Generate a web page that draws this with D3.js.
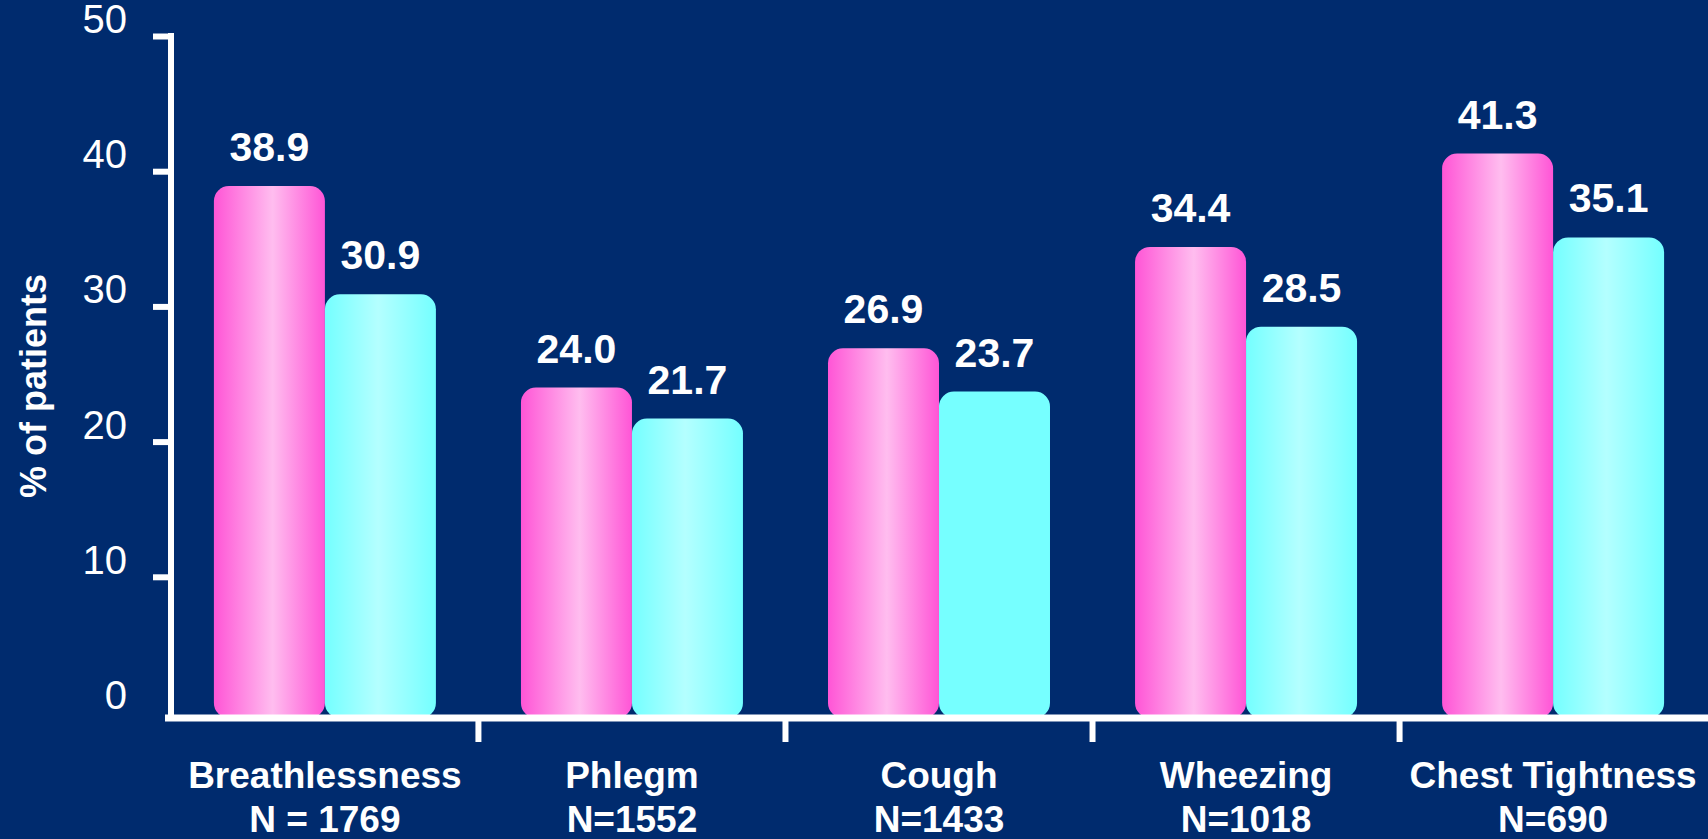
<!DOCTYPE html>
<html>
<head>
<meta charset="utf-8">
<script src="https://cdn.jsdelivr.net/npm/d3@7"></script>
<style>
  body { margin: 0; background: #002b6e; overflow: hidden; }
  svg { display: block; font-family: "Liberation Sans", Arial, sans-serif; }
</style>
</head>
<body>
<div id="chart"></div>
<script>
// data
const symptoms = ["Breathlessness", "Phlegm", "Cough", "Wheezing", "Chest Tightness"];
const sampleSizes = ["N = 1769", "N=1552", "N=1433", "N=1018", "N=690"];
const seriesKeys = ["pink", "cyan"];
const pinkValues = [38.9, 24.0, 26.9, 34.4, 41.3];
const cyanValues = [30.9, 21.7, 23.7, 28.5, 35.1];
const yTicks = [0, 10, 20, 30, 40, 50];
// the cyan Cough bar has no shading on the slide
const flatCyan = ["Cough"];

const width = 1708, height = 839;
const axisY = 718, axisX = 171;

const svg = d3.select("#chart")
  .append("svg")
    .attr("width", width)
    .attr("height", height);

svg.append("rect")
  .attr("width", width)
  .attr("height", height)
  .attr("fill", "#002b6e");

// gradients for the bars
const defs = svg.append("defs");
function addGradient(id, edge, mid, midAt) {
  const g = defs.append("linearGradient")
    .attr("id", id)
    .attr("x1", "0%").attr("x2", "100%")
    .attr("y1", "0%").attr("y2", "0%");
  g.append("stop").attr("offset", "0%").attr("stop-color", edge);
  g.append("stop").attr("offset", midAt).attr("stop-color", mid);
  g.append("stop").attr("offset", "100%").attr("stop-color", edge);
}
addGradient("grad-pink", "#ff55d6", "#ffbdef", "53%");
addGradient("grad-cyan", "#74ffff", "#b4ffff", "48%");

// scales
const x = d3.scaleBand()
  .domain(symptoms)
  .range([170, 1708])
  .paddingInner(0.277)
  .paddingOuter(0.143);

const xSub = d3.scaleBand()
  .domain(seriesKeys)
  .range([0, x.bandwidth()]);

const y = d3.scaleLinear()
  .domain([0, 50])
  .range([712, 36]);

const rows = symptoms.map((s, i) => ({
  symptom: s,
  n: sampleSizes[i],
  values: [
    {key: "pink", value: pinkValues[i]},
    {key: "cyan", value: cyanValues[i]}
  ]
}));

// bars
const groups = svg.append("g")
  .selectAll("g")
  .data(rows)
  .join("g")
    .attr("transform", d => `translate(${x(d.symptom)},0)`);

groups.selectAll("rect")
  .data(d => d.values.map(v => ({...v, symptom: d.symptom})))
  .join("rect")
    .attr("x", d => xSub(d.key))
    .attr("width", xSub.bandwidth())
    .attr("y", d => y(d.value))
    .attr("height", d => axisY - y(d.value))
    .attr("rx", 15)
    .attr("fill", d => {
      if (d.key === "cyan" && flatCyan.includes(d.symptom)) return "#76ffff";
      return d.key === "pink" ? "url(#grad-pink)" : "url(#grad-cyan)";
    });

groups.selectAll("text.value")
  .data(d => d.values)
  .join("text")
    .attr("class", "value")
    .attr("x", d => xSub(d.key) + xSub.bandwidth() / 2)
    .attr("y", d => y(d.value) - 25)
    .attr("text-anchor", "middle")
    .attr("fill", "white")
    .style("font-size", "41px")
    .style("font-weight", "bold")
    .text(d => d.value.toFixed(1));

// y axis
const yAxis = svg.append("g")
  .attr("transform", `translate(${axisX},0)`)
  .call(d3.axisLeft(y).tickValues(yTicks).tickSize(18).tickPadding(26));

yAxis.select(".domain").remove();
yAxis.selectAll(".tick line")
  .attr("stroke", "white")
  .attr("stroke-width", 6)
  .filter(d => d === 0).remove();
yAxis.selectAll(".tick text")
  .attr("fill", "white")
  .attr("dy", "0.36em")
  .attr("y", -18)
  .style("font-size", "40px")
  .style("font-family", "'Liberation Sans', Arial, sans-serif");

svg.append("line")
  .attr("x1", axisX).attr("x2", axisX)
  .attr("y1", y(50) - 3).attr("y2", axisY + 3)
  .attr("stroke", "white")
  .attr("stroke-width", 6);

// x axis
svg.append("line")
  .attr("x1", 165).attr("x2", width)
  .attr("y1", axisY).attr("y2", axisY)
  .attr("stroke", "white")
  .attr("stroke-width", 7);

const gap = x.step() - x.bandwidth();
svg.append("g")
  .selectAll("line")
  .data(symptoms.slice(0, -1))
  .join("line")
    .attr("x1", d => x(d) + x.bandwidth() + gap / 2)
    .attr("x2", d => x(d) + x.bandwidth() + gap / 2)
    .attr("y1", axisY)
    .attr("y2", 742)
    .attr("stroke", "white")
    .attr("stroke-width", 6);

const labels = svg.append("g")
  .selectAll("text")
  .data(rows)
  .join("text")
    .attr("text-anchor", "middle")
    .attr("fill", "white")
    .style("font-size", "37px")
    .style("font-weight", "bold");

labels.append("tspan")
  .attr("x", d => x(d.symptom) + x.bandwidth() / 2)
  .attr("y", 788)
  .text(d => d.symptom);
labels.append("tspan")
  .attr("x", d => x(d.symptom) + x.bandwidth() / 2)
  .attr("y", 832)
  .text(d => d.n);

// y axis title
svg.append("text")
  .attr("transform", `translate(46,386) rotate(-90)`)
  .attr("text-anchor", "middle")
  .attr("fill", "white")
  .style("font-size", "36px")
  .style("font-weight", "bold")
  .text("% of patients");
</script>
</body>
</html>
